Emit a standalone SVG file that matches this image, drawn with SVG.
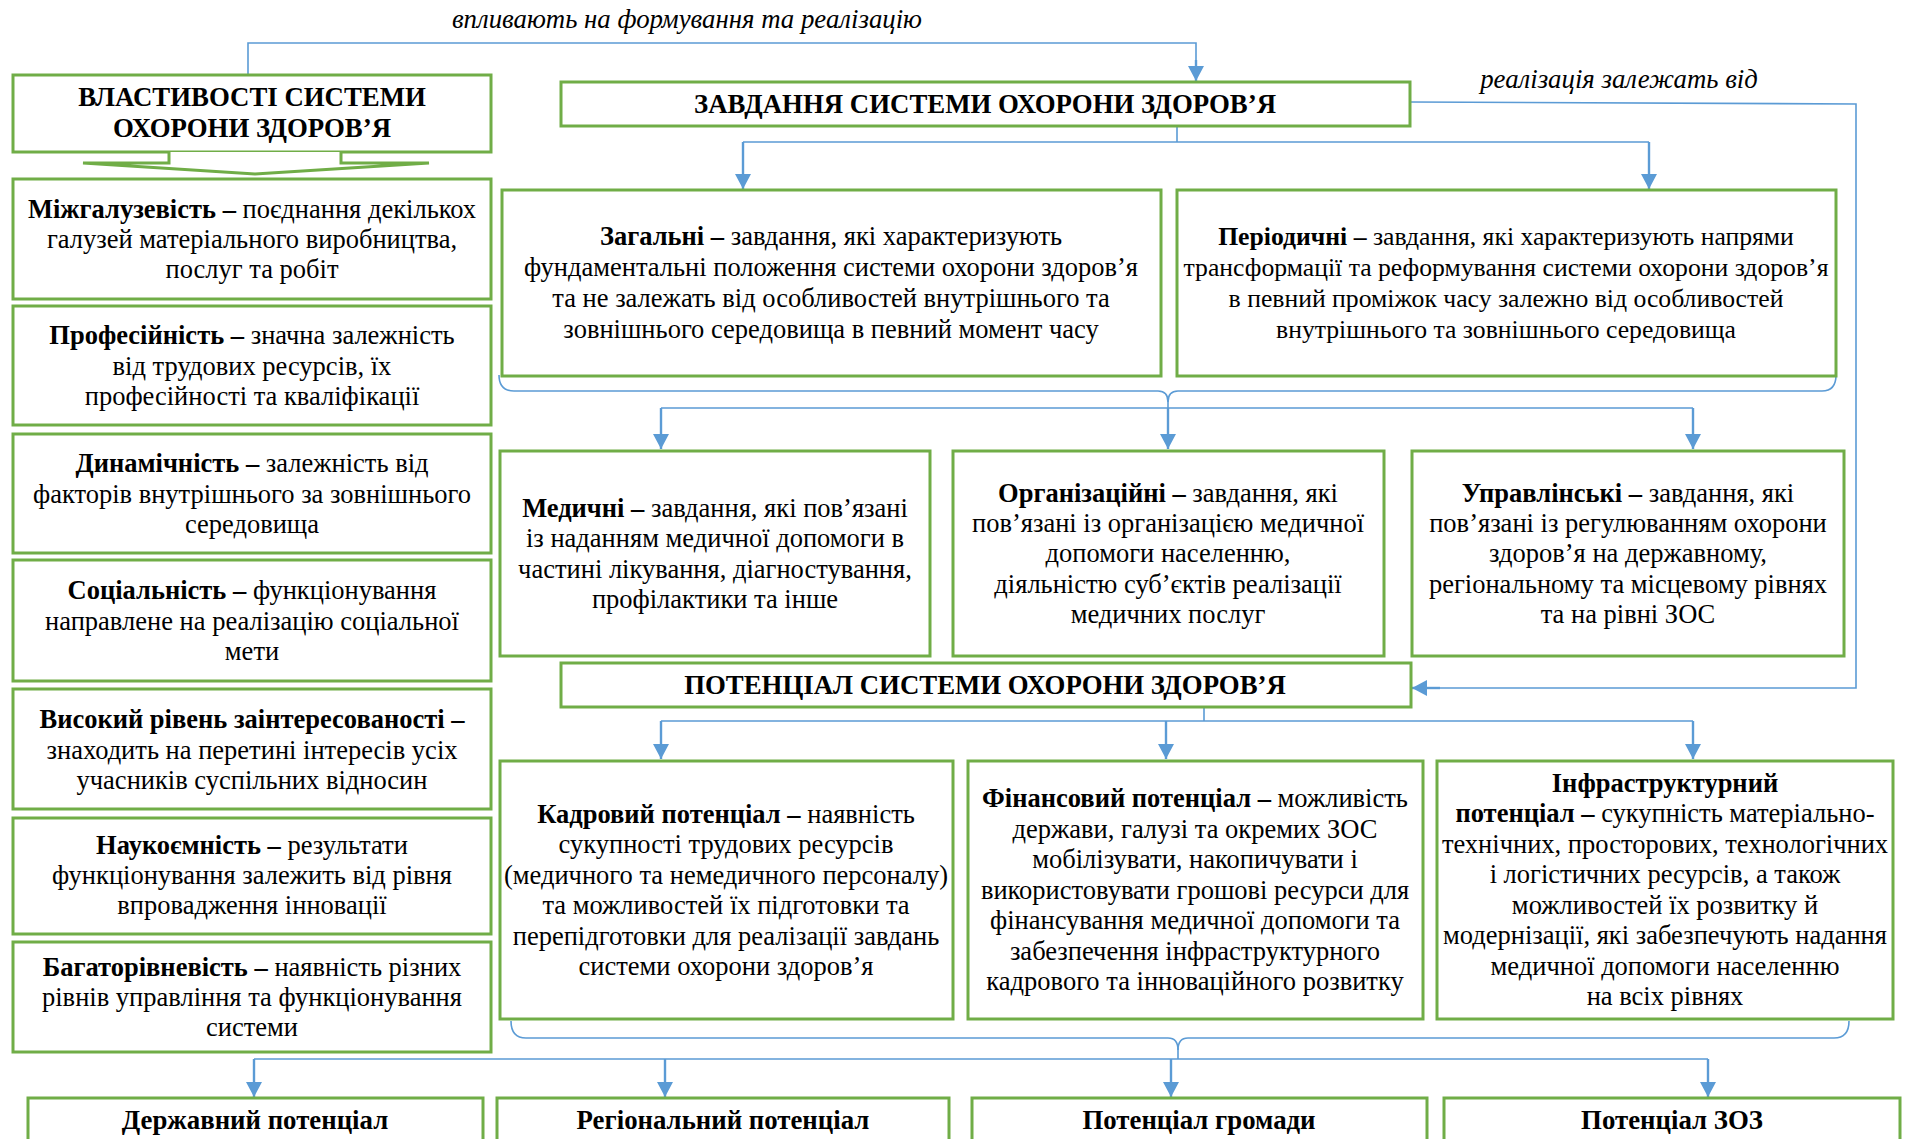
<svg xmlns="http://www.w3.org/2000/svg" width="1906" height="1139" viewBox="0 0 1906 1139">
<style>
.box{fill:#fff;stroke:#70AD47;stroke-width:3}
.t{font-family:"Liberation Serif","Times New Roman",serif;font-size:26.5px;fill:#000;text-anchor:middle}
.ts{font-size:25.7px}
.h{font-family:"Liberation Serif","Times New Roman",serif;font-size:26.8px;font-weight:bold;fill:#000;text-anchor:middle}
.it{font-family:"Liberation Serif","Times New Roman",serif;font-size:26.8px;font-style:italic;fill:#000}
.b{font-weight:bold}
.ln{fill:none;stroke:#5B9BD5;stroke-width:1.6}
.ar{fill:none;stroke:#5B9BD5;stroke-width:2.4}
</style>
<defs>
<marker id="ah" markerUnits="userSpaceOnUse" markerWidth="16" markerHeight="16" refX="15" refY="8" orient="auto">
<path d="M0,0 L15,8 L0,16 z" fill="#5B9BD5"/>
</marker>
</defs>
<rect width="1906" height="1139" fill="#fff"/>

<g id="connectors">
<path class="ln" d="M248,74 V43 H1196 V66"/>
<path class="ar" d="M1196,60 V81" marker-end="url(#ah)"/>
<path class="ln" d="M1410,102 L1856,104 V688 H1440"/>
<path class="ar" d="M1440,688 H1412" marker-end="url(#ah)"/>
<path class="ln" d="M1177,126 V142 M743,142 H1649"/>
<path class="ar" d="M743,142 V189" marker-end="url(#ah)"/>
<path class="ar" d="M1649,142 V189" marker-end="url(#ah)"/>
<path class="ln" d="M499,375 Q499,391 514,391 H1158 Q1168,391 1168,402 Q1168,391 1178,391 H1822 Q1836,391 1836,375"/>
<path class="ln" d="M1168,400 V408 M661,408 H1693"/>
<path class="ar" d="M661,408 V449" marker-end="url(#ah)"/>
<path class="ar" d="M1168,408 V449" marker-end="url(#ah)"/>
<path class="ar" d="M1693,408 V449" marker-end="url(#ah)"/>
<path class="ln" d="M1204,707 V721 M661,721 H1693"/>
<path class="ar" d="M661,721 V759" marker-end="url(#ah)"/>
<path class="ar" d="M1166,721 V759" marker-end="url(#ah)"/>
<path class="ar" d="M1693,721 V759" marker-end="url(#ah)"/>
<path class="ln" d="M511,1021 Q511,1038 526,1038 H1168 Q1178,1038 1178,1050 Q1178,1038 1188,1038 H1834 Q1849,1038 1849,1021"/>
<path class="ln" d="M1178,1048 V1059 M254,1059 H1708"/>
<path class="ar" d="M254,1059 V1097" marker-end="url(#ah)"/>
<path class="ar" d="M665,1059 V1097" marker-end="url(#ah)"/>
<path class="ar" d="M1171,1059 V1097" marker-end="url(#ah)"/>
<path class="ar" d="M1708,1059 V1097" marker-end="url(#ah)"/>
</g>

<g id="label-top"><text class="it" x="687" y="28" text-anchor="middle">впливають на формування та реалізацію</text></g>
<g id="label-right"><text class="it" x="1619" y="88" text-anchor="middle">реалізація залежать від</text></g>

<g id="props-title">
<rect class="box" x="13" y="75" width="478" height="77"/>
<text class="h" x="252" y="106">ВЛАСТИВОСТІ СИСТЕМИ</text>
<text class="h" x="252" y="137">ОХОРОНИ ЗДОРОВ’Я</text>
<path d="M169,152 V163 H83 L255,174 L429,163 H341 V152" fill="#fff" stroke="#70AD47" stroke-width="3"/>
</g>

<g id="p1">
<rect class="box" x="13" y="179" width="478" height="120"/>
<text class="t" x="252" y="218"><tspan class="b">Міжгалузевість –</tspan> поєднання декількох</text>
<text class="t" x="252" y="248">галузей матеріального виробництва,</text>
<text class="t" x="252" y="278">послуг та робіт</text>
</g>
<g id="p2">
<rect class="box" x="13" y="306" width="478" height="119"/>
<text class="t" x="252" y="344"><tspan class="b">Професійність –</tspan> значна залежність</text>
<text class="t" x="252" y="375">від трудових ресурсів, їх</text>
<text class="t" x="252" y="405">професійності та кваліфікації</text>
</g>
<g id="p3">
<rect class="box" x="13" y="434" width="478" height="119"/>
<text class="t" x="252" y="472"><tspan class="b">Динамічність –</tspan> залежність від</text>
<text class="t" x="252" y="503">факторів внутрішнього за зовнішнього</text>
<text class="t" x="252" y="533">середовища</text>
</g>
<g id="p4">
<rect class="box" x="13" y="560" width="478" height="121"/>
<text class="t" x="252" y="599"><tspan class="b">Соціальність –</tspan> функціонування</text>
<text class="t" x="252" y="630">направлене на реалізацію соціальної</text>
<text class="t" x="252" y="660">мети</text>
</g>
<g id="p5">
<rect class="box" x="13" y="689" width="478" height="120"/>
<text class="t" x="252" y="728"><tspan class="b">Високий рівень заінтересованості –</tspan></text>
<text class="t" x="252" y="759">знаходить на перетині інтересів усіх</text>
<text class="t" x="252" y="789">учасників суспільних відносин</text>
</g>
<g id="p6">
<rect class="box" x="13" y="818" width="478" height="116"/>
<text class="t" x="252" y="854"><tspan class="b">Наукоємність –</tspan> результати</text>
<text class="t" x="252" y="884">функціонування залежить від рівня</text>
<text class="t" x="252" y="914">впровадження інновації</text>
</g>
<g id="p7">
<rect class="box" x="13" y="942" width="478" height="110"/>
<text class="t" x="252" y="976"><tspan class="b">Багаторівневість –</tspan> наявність різних</text>
<text class="t" x="252" y="1006">рівнів управління та функціонування</text>
<text class="t" x="252" y="1036">системи</text>
</g>

<g id="tasks-title">
<rect class="box" x="561" y="82" width="849" height="44"/>
<text class="h" x="985" y="113">ЗАВДАННЯ СИСТЕМИ ОХОРОНИ ЗДОРОВ’Я</text>
</g>

<g id="t-general">
<rect class="box" x="502" y="190" width="659" height="186"/>
<text class="t" x="831" y="245"><tspan class="b">Загальні –</tspan> завдання, які характеризують</text>
<text class="t" x="831" y="276">фундаментальні положення системи охорони здоров’я</text>
<text class="t" x="831" y="307">та не залежать від особливостей внутрішнього та</text>
<text class="t" x="831" y="338">зовнішнього середовища в певний момент часу</text>
</g>
<g id="t-periodic">
<rect class="box" x="1177" y="190" width="659" height="186"/>
<text class="t ts" x="1506" y="245"><tspan class="b">Періодичні –</tspan> завдання, які характеризують напрями</text>
<text class="t ts" x="1506" y="276">трансформації та реформування системи охорони здоров’я</text>
<text class="t ts" x="1506" y="307">в певний проміжок часу залежно від особливостей</text>
<text class="t ts" x="1506" y="338">внутрішнього та зовнішнього середовища</text>
</g>

<g id="t-medical">
<rect class="box" x="500" y="451" width="430" height="205"/>
<text class="t" x="715" y="517"><tspan class="b">Медичні –</tspan> завдання, які пов’язані</text>
<text class="t" x="715" y="547">із наданням медичної допомоги в</text>
<text class="t" x="715" y="578">частині лікування, діагностування,</text>
<text class="t" x="715" y="608">профілактики та інше</text>
</g>
<g id="t-org">
<rect class="box" x="953" y="451" width="431" height="205"/>
<text class="t" x="1168" y="502"><tspan class="b">Організаційні –</tspan> завдання, які</text>
<text class="t" x="1168" y="532">пов’язані із організацією медичної</text>
<text class="t" x="1168" y="562">допомоги населенню,</text>
<text class="t" x="1168" y="593">діяльністю суб’єктів реалізації</text>
<text class="t" x="1168" y="623">медичних послуг</text>
</g>
<g id="t-manage">
<rect class="box" x="1412" y="451" width="432" height="205"/>
<text class="t" x="1628" y="502"><tspan class="b">Управлінські –</tspan> завдання, які</text>
<text class="t" x="1628" y="532">пов’язані із регулюванням охорони</text>
<text class="t" x="1628" y="562">здоров’я на державному,</text>
<text class="t" x="1628" y="593">регіональному та місцевому рівнях</text>
<text class="t" x="1628" y="623">та на рівні ЗОС</text>
</g>

<g id="potential-title">
<rect class="box" x="561" y="663" width="850" height="44"/>
<text class="h" x="985" y="694">ПОТЕНЦІАЛ СИСТЕМИ ОХОРОНИ ЗДОРОВ’Я</text>
</g>

<g id="pot-staff">
<rect class="box" x="500" y="761" width="453" height="258"/>
<text class="t" x="726" y="823"><tspan class="b">Кадровий потенціал –</tspan> наявність</text>
<text class="t" x="726" y="853">сукупності трудових ресурсів</text>
<text class="t" x="726" y="884">(медичного та немедичного персоналу)</text>
<text class="t" x="726" y="914">та можливостей їх підготовки та</text>
<text class="t" x="726" y="945">перепідготовки для реалізації завдань</text>
<text class="t" x="726" y="975">системи охорони здоров’я</text>
</g>
<g id="pot-fin">
<rect class="box" x="968" y="761" width="455" height="258"/>
<text class="t" x="1195" y="807"><tspan class="b">Фінансовий потенціал –</tspan> можливість</text>
<text class="t" x="1195" y="838">держави, галузі та окремих ЗОС</text>
<text class="t" x="1195" y="868">мобілізувати, накопичувати і</text>
<text class="t" x="1195" y="899">використовувати грошові ресурси для</text>
<text class="t" x="1195" y="929">фінансування медичної допомоги та</text>
<text class="t" x="1195" y="960">забезпечення інфраструктурного</text>
<text class="t" x="1195" y="990">кадрового та інноваційного розвитку</text>
</g>
<g id="pot-infra">
<rect class="box" x="1437" y="761" width="456" height="258"/>
<text class="t" x="1665" y="792"><tspan class="b">Інфраструктурний</tspan></text>
<text class="t" x="1665" y="822"><tspan class="b">потенціал –</tspan> сукупність матеріально-</text>
<text class="t" x="1665" y="853">технічних, просторових, технологічних</text>
<text class="t" x="1665" y="883">і логістичних ресурсів, а також</text>
<text class="t" x="1665" y="914">можливостей їх розвитку й</text>
<text class="t" x="1665" y="944">модернізації, які забезпечують надання</text>
<text class="t" x="1665" y="975">медичної допомоги населенню</text>
<text class="t" x="1665" y="1005">на всіх рівнях</text>
</g>

<g id="lvl-state">
<rect class="box" x="28" y="1098" width="455" height="70"/>
<text class="h" x="255" y="1129">Державний потенціал</text>
</g>
<g id="lvl-region">
<rect class="box" x="497" y="1098" width="452" height="70"/>
<text class="h" x="723" y="1129">Регіональний потенціал</text>
</g>
<g id="lvl-community">
<rect class="box" x="972" y="1098" width="455" height="70"/>
<text class="h" x="1199" y="1129">Потенціал громади</text>
</g>
<g id="lvl-hcf">
<rect class="box" x="1444" y="1098" width="456" height="70"/>
<text class="h" x="1672" y="1129">Потенціал ЗОЗ</text>
</g>
</svg>
